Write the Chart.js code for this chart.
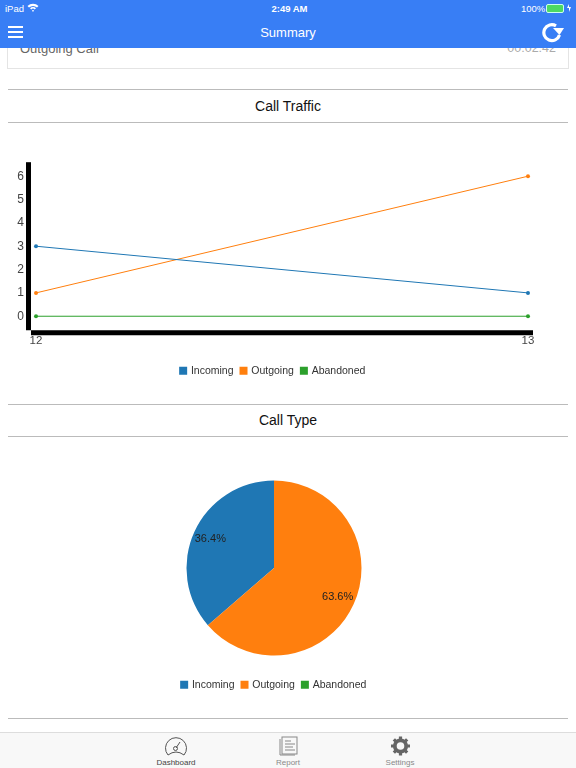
<!DOCTYPE html>
<html><head><meta charset="utf-8">
<style>
html,body{margin:0;padding:0;width:576px;height:768px;overflow:hidden;background:#fff;font-family:"Liberation Sans",sans-serif}
.abs{position:absolute}
#nav{left:0;top:0;width:576px;height:48px;background:#387ef5;z-index:5;color:#fff}
#card{left:7px;top:20px;width:560px;height:47px;border:1px solid #e4e4e4;box-sizing:content-box}
.hr{left:8px;width:560px;height:1px;background:#bbb}
.title{left:0;width:576px;text-align:center;font-size:14px;color:#111;line-height:16px}
#tab{left:0;top:732px;width:576px;height:36px;background:#f8f8f8;border-top:1px solid #ddd;box-sizing:border-box;z-index:5}
.tl{position:absolute;top:25px;width:80px;text-align:center;font-size:8px;line-height:9px}
canvas{position:absolute;left:0}
</style></head><body>
<div class="abs" id="card"></div>
<div class="abs" style="left:20px;top:41px;font-size:13px;color:#666;line-height:15px">Outgoing Call</div>
<div class="abs" style="right:20px;top:41px;font-size:12.5px;color:#aaa;line-height:15px">00:02:42</div>
<div class="abs" id="nav">
 <div class="abs" style="left:5px;top:3px;font-size:9.5px;line-height:11px">iPad</div>
 <svg class="abs" style="left:27px;top:3px" width="12" height="9" viewBox="0 0 12 9"><path d="M0.5 3 A8 8 0 0 1 11.5 3 L10 4.5 A6 6 0 0 0 2 4.5Z M3 5.3 A4 4 0 0 1 9 5.3 L7.7 6.6 A2.2 2.2 0 0 0 4.3 6.6Z M6 9 L4.9 7.6 A1.6 1.6 0 0 1 7.1 7.6Z" fill="#fff"/></svg>
 <div class="abs" style="left:0;width:579px;top:3px;text-align:center;font-size:9.5px;line-height:11px;font-weight:bold;color:#fff">2:49 AM</div>
 <div class="abs" style="left:521px;top:3px;font-size:9.5px;line-height:11px">100%</div>
 <div class="abs" style="left:546px;top:4px;width:16px;height:7px;border:1px solid #cfe;border-radius:2px;background:#4cd964"></div>
 <svg class="abs" style="left:564px;top:3px" width="9" height="10" viewBox="0 0 9 10"><path d="M5 1L3 5h2v4l2-5H5z" fill="#fff"/></svg>
 <div class="abs" style="left:0;width:576px;top:24px;text-align:center;font-size:13px;line-height:17px">Summary</div>
 <svg class="abs" style="left:8px;top:26px" width="15" height="12" viewBox="0 0 15 12"><path d="M0 1h15M0 6h15M0 11h15" stroke="#fff" stroke-width="1.8"/></svg>
 <svg class="abs" style="left:541px;top:21px" width="24" height="22" viewBox="0 0 24 22"><path d="M18.5 14 A8 8 0 1 1 15 4.8" fill="none" stroke="#fff" stroke-width="3.2"/><path d="M12 7 L23 7 L18.5 14 Z" fill="#fff"/></svg>
</div>
<div class="abs hr" style="top:89px"></div>
<div class="abs title" style="top:98px">Call Traffic</div>
<div class="abs hr" style="top:122px"></div>
<canvas id="lineC" width="548" height="238" style="top:148px;width:548px;height:238px"></canvas>
<div class="abs hr" style="top:404px"></div>
<div class="abs title" style="top:412px">Call Type</div>
<div class="abs hr" style="top:436px"></div>
<canvas id="pieC" width="548" height="236" style="top:464px;width:548px;height:236px"></canvas>
<div class="abs hr" style="top:718px"></div>
<div class="abs" id="tab">
 <svg class="abs" style="left:164px;top:3px" width="24" height="21" viewBox="0 0 24 21"><path d="M4 19 A10.5 10.5 0 1 1 20 19 Q12 13 4 19Z" fill="none" stroke="#555" stroke-width="1"/><path d="M12 12l4-6" stroke="#555" stroke-width="1"/><circle cx="11.5" cy="12.5" r="2" fill="none" stroke="#555"/></svg>
 <div class="tl" style="left:136px;color:#444">Dashboard</div>
 <svg class="abs" style="left:279px;top:3px" width="19" height="20" viewBox="0 0 19 20"><rect x="3" y="1" width="15" height="17" fill="none" stroke="#888"/><path d="M1 3v16h15M6 5h6M6 8h10M6 11h8M6 14h10" fill="none" stroke="#888"/></svg>
 <div class="tl" style="left:248px;color:#888">Report</div>
 <svg class="abs" style="left:391px;top:3px" width="19" height="20" viewBox="0 0 20 20"><circle cx="10" cy="10" r="6" fill="none" stroke="#666" stroke-width="4"/><path d="M10 0v4M10 16v4M0 10h4M16 10h4M3 3l3 3M14 14l3 3M17 3l-3 3M6 14l-3 3" stroke="#666" stroke-width="3.4"/></svg>
 <div class="tl" style="left:360px;color:#888">Settings</div>
</div>
<script src="https://cdn.jsdelivr.net/npm/chart.js@4"></script>
<script>
const seriesNames = ["Incoming","Outgoing","Abandoned"];
const seriesColors = ["#1f77b4","#ff7f0e","#2ca02c"];
const hours = [12,13];
const incomingCalls = [3,1];
const outgoingCalls = [1,6];
const abandonedCalls = [0,0];
const yTicks = [0,1,2,3,4,5,6];
const typeValues = [4,7,0];
const pieRotation = 229.1;

const FONT = '"Liberation Sans",sans-serif';
Chart.defaults.font.family = FONT;
Chart.defaults.animation = false;
Chart.defaults.responsive = false;

function legendItems(chart, base){
  return base(chart).map((l,i)=>({...l,fillStyle:seriesColors[i],strokeStyle:seriesColors[i],lineWidth:3}));
}
const legendOpts = (pad, base) => ({position:'bottom',labels:{boxWidth:5,boxHeight:5,padding:pad,font:{size:10.5},color:'#333',generateLabels:c=>legendItems(c,base)}});
const axisPlugin = {id:'thickAxes',afterDraw(c){
  const a=c.chartArea,x=c.ctx;x.save();x.fillStyle='#000';
  x.fillRect(a.left-5,a.top,5,a.bottom-a.top);
  x.fillRect(a.left,a.bottom,a.right-a.left,5);x.restore();
}};
function pt(xs,ys){return xs.map((v,i)=>({x:v,y:ys[i]}));}
const lineSeries=[incomingCalls,outgoingCalls,abandonedCalls];
new Chart(document.getElementById('lineC'),{
  type:'line',
  data:{datasets:seriesNames.map((n,i)=>({label:n,data:pt(hours,lineSeries[i]),borderColor:seriesColors[i],backgroundColor:seriesColors[i],borderWidth:1,pointRadius:2,pointBorderWidth:0,tension:0,fill:false}))},
  plugins:[axisPlugin],
  options:{
    layout:{padding:{top:14,left:13,right:15,bottom:0}},
    plugins:{legend:legendOpts(7.5,Chart.defaults.plugins.legend.labels.generateLabels),tooltip:{enabled:false}},
    scales:{
      x:{type:'linear',min:11.9898,max:13.0102,
        afterBuildTicks:s=>{s.ticks=hours.map(v=>({value:v}));},
        afterFit:s=>{s.height=27.75;},
        grid:{display:false,drawTicks:false},border:{display:false},
        ticks:{color:'#444',font:{size:11.5},padding:4,maxRotation:0,callback:v=>String(v)}},
      y:{min:-0.6,max:6.6,
        afterBuildTicks:s=>{s.ticks=yTicks.map(v=>({value:v}));},
        afterFit:s=>{s.width=18;},
        grid:{display:false,drawTicks:false},border:{display:false},
        ticks:{color:'#444',font:{size:12},padding:7,callback:v=>String(v)}}
    }
  }
});
const pctPlugin={id:'pct',afterDatasetsDraw(c){
  const x=c.ctx,m=c.getDatasetMeta(0),tot=typeValues.reduce((a,b)=>a+b,0);
  x.save();x.font='11px '+FONT;x.fillStyle='#222';x.textAlign='center';x.textBaseline='middle';
  m.data.forEach((a,i)=>{
    if(!typeValues[i])return;
    const mid=(a.startAngle+a.endAngle)/2,r=a.outerRadius*0.8;
    x.fillText((typeValues[i]/tot*100).toFixed(1)+'%',a.x+Math.cos(mid)*r,a.y+Math.sin(mid)*r);
  });x.restore();
}};
new Chart(document.getElementById('pieC'),{
  type:'pie',
  data:{labels:seriesNames,datasets:[{data:typeValues,backgroundColor:seriesColors,borderWidth:0}]},
  plugins:[pctPlugin],
  options:{rotation:pieRotation,radius:87.5,layout:{padding:0},
    plugins:{legend:legendOpts(7.5,Chart.overrides.pie.plugins.legend.labels.generateLabels),tooltip:{enabled:false}}}
});
</script>
</body></html>
